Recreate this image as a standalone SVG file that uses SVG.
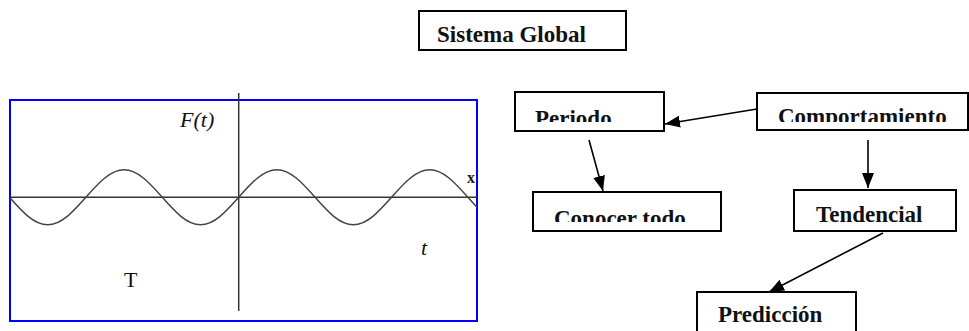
<svg xmlns="http://www.w3.org/2000/svg" width="969" height="331" viewBox="0 0 969 331">
  <style>
    .box { fill: #ffffff; stroke: #000000; stroke-width: 2; }
    .lbl { font-family: "Liberation Serif", "Times New Roman", serif; font-weight: bold; font-size: 23px; fill: #111111; }
    .ax { stroke: #333333; stroke-width: 1.5; fill: none; }
    .wave { stroke: #444444; stroke-width: 1.5; fill: none; }
    .it { font-family: "Liberation Serif", "Times New Roman", serif; font-style: italic; font-size: 22px; fill: #111111; }
    .rm { font-family: "Liberation Serif", "Times New Roman", serif; font-size: 22px; fill: #111111; }
    .conn { stroke: #000000; stroke-width: 1.6; fill: none; marker-end: url(#ah); }
  </style>
  <defs>
    <marker id="ah" markerWidth="15" markerHeight="12" refX="15" refY="6" orient="auto" markerUnits="userSpaceOnUse">
      <path d="M0,0 L15,6 L0,12 z" fill="#000000"/>
    </marker>
    <clipPath id="plotclip"><rect x="10" y="100" width="467" height="221"/></clipPath>
    <clipPath id="cpPeriodo"><rect x="515" y="92" width="149" height="30"/></clipPath>
    <clipPath id="cpComp"><rect x="757" y="93" width="211" height="29"/></clipPath>
    <clipPath id="cpConocer"><rect x="533" y="192" width="188" height="30"/></clipPath>
  </defs>
  <rect width="969" height="331" fill="#ffffff"/>

  <g id="plot">
    <rect x="10" y="100" width="467" height="221" fill="#ffffff" stroke="#0000ff" stroke-width="2"/>
    <line class="ax" x1="10" y1="197.3" x2="477" y2="197.3"/>
    <line class="ax" x1="238.7" y1="93" x2="238.7" y2="311"/>
    <path class="wave" clip-path="url(#plotclip)" d="M9.5,197.3 c12.46,14.09 24.39,27.5 38.2,27.5 s25.74,-13.41 38.2,-27.5 s24.39,-27.5 38.2,-27.5 s25.74,13.41 38.2,27.5 s24.39,27.5 38.2,27.5 s25.74,-13.41 38.2,-27.5 s24.39,-27.5 38.2,-27.5 s25.74,13.41 38.2,27.5 s24.39,27.5 38.2,27.5 s25.74,-13.41 38.2,-27.5 s24.39,-27.5 38.2,-27.5 s25.74,13.41 38.2,27.5 s24.39,27.5 38.2,27.5"/>
    <text class="it" x="180" y="127">F(t)</text>
    <text class="it" x="421" y="255">t</text>
    <text class="rm" x="124" y="287">T</text>
    <text clip-path="url(#plotclip)" x="467" y="183" style="font-family: 'Liberation Serif', 'Times New Roman', serif; font-weight: bold; font-size: 16px; fill: #222222;">x</text>
  </g>

  <g id="sistema-global">
    <rect class="box" x="419" y="11" width="207" height="39"/>
    <text class="lbl" x="437" y="42">Sistema Global</text>
  </g>

  <g id="periodo">
    <rect class="box" x="515" y="92" width="149" height="39"/>
    <text class="lbl" x="535" y="125.5" clip-path="url(#cpPeriodo)">Periodo</text>
  </g>

  <g id="comportamiento">
    <rect class="box" x="757" y="93" width="211" height="37"/>
    <text class="lbl" x="778" y="124" clip-path="url(#cpComp)">Comportamiento</text>
  </g>

  <g id="conocer-todo">
    <rect class="box" x="533" y="192" width="188" height="39"/>
    <text class="lbl" x="554" y="225.5" clip-path="url(#cpConocer)">Conocer todo</text>
  </g>

  <g id="tendencial">
    <rect class="box" x="794" y="190" width="162" height="41"/>
    <text class="lbl" x="816" y="221.5">Tendencial</text>
  </g>

  <g id="prediccion">
    <rect class="box" x="697" y="292" width="159" height="45"/>
    <text class="lbl" x="718" y="322">Predicción</text>
  </g>

  <g id="connectors">
    <line class="conn" x1="757" y1="109" x2="665" y2="124"/>
    <line class="conn" x1="589" y1="140" x2="603" y2="191"/>
    <line class="conn" x1="868" y1="140" x2="868" y2="188"/>
    <line class="conn" x1="883" y1="233" x2="769" y2="292"/>
  </g>
</svg>
